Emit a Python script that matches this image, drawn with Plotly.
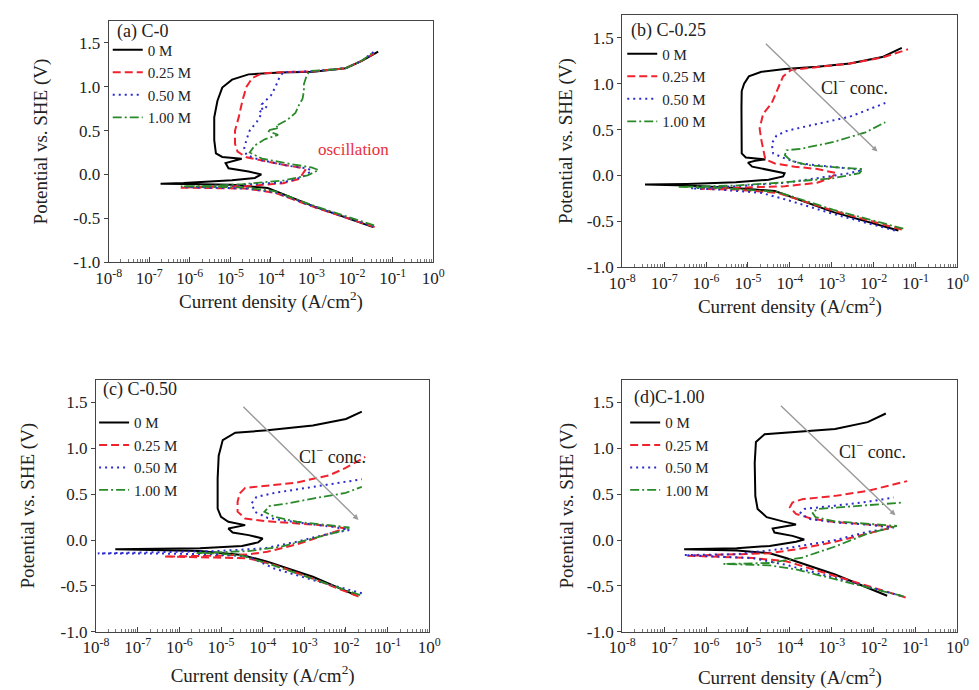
import plotly.graph_objects as go

# ---------------- tick / label data ----------------
X_TICK_VALS = [1e-8, 1e-7, 1e-6, 1e-5, 1e-4, 1e-3, 1e-2, 1e-1, 1e0]
X_TICK_TEXT = ["10<sup>-8</sup>", "10<sup>-7</sup>", "10<sup>-6</sup>", "10<sup>-5</sup>",
               "10<sup>-4</sup>", "10<sup>-3</sup>", "10<sup>-2</sup>", "10<sup>-1</sup>", "10<sup>0</sup>"]
Y_TICK_VALS = [-1.0, -0.5, 0.0, 0.5, 1.0, 1.5]
Y_TICK_TEXT = ["-1.0", "-0.5", "0.0", "0.5", "1.0", "1.5"]
CONC_LABELS = ["0 M", "0.25 M", "0.50 M", "1.00 M"]
PANEL_TITLES = ["(a) C-0", "(b) C-0.25", "(c) C-0.50", "(d)C-1.00"]

# ---------------- panel (a) C-0 ----------------
A_0_I = [3.3e-2, 1.1e-3, 8.3e-5, 1.1e-5, 7e-7, 1.9e-7, 7e-7, 1.1e-5, 4e-5, 5.8e-5, 2.8e-5, 9e-6, 7.6e-6,
         1.3e-5, 1.9e-5, 6.3e-6, 4.4e-6, 4e-6, 4e-6, 4.8e-6, 6.3e-6, 1.1e-5, 2.8e-5, 1.7e-4, 1.1e-3,
         6.9e-3, 1.7e-2, 4.4e-2]
A_0_E = [-0.60, -0.36, -0.154, -0.116, -0.109, -0.105, -0.097, -0.067, -0.04, 0.0, 0.034, 0.07, 0.13,
         0.157, 0.18, 0.20, 0.24, 0.39, 0.65, 0.84, 0.99, 1.08, 1.14, 1.16, 1.17, 1.21, 1.29, 1.40]
A_25_I = [3.6e-2, 1.3e-3, 1.3e-4, 2.5e-5, 3e-6, 5.8e-7, 3e-6, 3e-5, 2e-4, 5e-4, 7e-4, 5e-4, 2e-4, 6e-5,
          2.5e-5, 1.5e-5, 1.3e-5, 1.3e-5, 1.6e-5, 2e-5, 2.5e-5, 3.5e-5, 6e-5, 2e-4, 1.2e-3, 7e-3, 1.8e-2, 3.5e-2]
A_25_E = [-0.60, -0.38, -0.21, -0.16, -0.155, -0.15, -0.14, -0.13, -0.10, -0.05, 0.05, 0.08, 0.11, 0.157,
          0.195, 0.26, 0.35, 0.50, 0.65, 0.85, 1.00, 1.10, 1.15, 1.165, 1.175, 1.21, 1.30, 1.38]
A_50_I = [3.4e-2, 1.2e-3, 1.2e-4, 2.5e-5, 3e-6, 8e-7, 3e-6, 2e-5, 2e-4, 6e-4, 1e-3, 8e-4, 2.5e-4, 5e-5,
          2.5e-5, 2.2e-5, 2.5e-5, 3e-5, 4.5e-5, 6e-5, 5e-5, 8e-5, 6e-5, 1e-4, 1.3e-4, 1.6e-4, 2e-4,
          1.2e-3, 7e-3, 1.8e-2, 3.5e-2]
A_50_E = [-0.59, -0.37, -0.20, -0.16, -0.15, -0.145, -0.14, -0.12, -0.09, -0.03, 0.04, 0.07, 0.10, 0.17,
          0.22, 0.30, 0.40, 0.50, 0.60, 0.70, 0.74, 0.76, 0.80, 0.90, 1.00, 1.10, 1.165, 1.175, 1.21, 1.30, 1.40]
A_100_I = [3.5e-2, 1.2e-3, 1.2e-4, 2.5e-5, 3e-6, 6e-7, 3e-6, 2e-5, 2e-4, 8e-4, 1.5e-3, 1e-3, 3e-4, 6e-5,
           3e-5, 4e-5, 7e-5, 1.5e-4, 8e-5, 1.6e-4, 1.3e-4, 2.5e-4, 4e-4, 5e-4, 6e-4, 6.5e-4, 6.5e-4,
           7.5e-4, 9e-4, 2.5e-3, 7e-3, 1.8e-2, 3.5e-2]
A_100_E = [-0.58, -0.36, -0.19, -0.15, -0.14, -0.135, -0.13, -0.11, -0.07, -0.01, 0.05, 0.08, 0.12, 0.18,
           0.25, 0.33, 0.40, 0.45, 0.50, 0.53, 0.55, 0.62, 0.70, 0.80, 0.86, 0.95, 1.03, 1.12, 1.18,
           1.19, 1.21, 1.30, 1.40]

# ---------------- panel (b) C-0.25 ----------------
B_0_I = [3.9e-2, 1.1e-3, 4.4e-5, 5.1e-6, 3.5e-7, 3.5e-8, 3.5e-7, 5.1e-6, 3.1e-5, 6.9e-5, 7.5e-5, 3.1e-5,
         1.26e-5, 1e-5, 1.5e-5, 2.6e-5, 8.9e-6, 7.1e-6, 7e-6, 7e-6, 7.1e-6, 8.1e-6, 1.05e-5, 2.1e-5,
         7.6e-5, 4.5e-4, 2.7e-3, 1.6e-2, 4.7e-2]
B_0_E = [-0.60, -0.40, -0.17, -0.136, -0.11, -0.10, -0.093, -0.075, -0.046, -0.01, 0.025, 0.06, 0.096,
         0.14, 0.16, 0.175, 0.196, 0.24, 0.38, 0.74, 0.92, 1.00, 1.08, 1.13, 1.16, 1.185, 1.22, 1.29, 1.39]
B_25_I = [4.7e-2, 1.1e-3, 5.2e-5, 5.1e-6, 7.2e-7, 5.1e-6, 7.6e-5, 4.5e-4, 9.1e-4, 1.3e-3, 4.5e-4, 1.3e-4,
          4.4e-5, 2.6e-5, 2.3e-5, 2.1e-5, 1.9e-5, 2.3e-5, 3.7e-5, 5.2e-5, 6.9e-5, 1.07e-4, 4.5e-4,
          2.7e-3, 1.6e-2, 6.6e-2]
B_25_E = [-0.59, -0.385, -0.19, -0.154, -0.146, -0.136, -0.118, -0.08, -0.03, 0.025, 0.07, 0.096, 0.13,
          0.175, 0.275, 0.38, 0.51, 0.67, 0.79, 0.94, 1.08, 1.15, 1.18, 1.22, 1.285, 1.375]
B_50_I = [3.2e-2, 1.1e-3, 7.6e-5, 2.1e-5, 2.1e-6, 4.3e-7, 5.1e-6, 7.6e-5, 4.5e-4, 2.7e-3, 5.5e-3, 1.1e-3,
          1.8e-4, 7.6e-5, 4e-5, 3.7e-5, 4.8e-5, 8.9e-5, 4.5e-4, 2.7e-3, 1.9e-2]
B_50_E = [-0.60, -0.42, -0.26, -0.19, -0.154, -0.14, -0.118, -0.08, -0.03, 0.025, 0.06, 0.096, 0.13, 0.186,
          0.24, 0.346, 0.435, 0.49, 0.56, 0.64, 0.79]
B_100_I = [5.1e-2, 1.1e-3, 5.2e-5, 2.1e-6, 2.1e-7, 5.1e-6, 7.6e-5, 1.1e-3, 4.6e-3, 5.5e-3, 1.1e-3, 2.6e-4,
           1.07e-4, 7.6e-5, 8.3e-5, 1.8e-4, 1.1e-3, 6.4e-3, 1.9e-2]
B_100_E = [-0.58, -0.375, -0.18, -0.136, -0.125, -0.11, -0.075, -0.03, 0.025, 0.07, 0.09, 0.114, 0.16,
           0.22, 0.275, 0.29, 0.365, 0.47, 0.58]

# ---------------- panel (c) C-0.50 ----------------
C_0_I = [1.7e-2, 1.6e-3, 1.3e-4, 3.2e-5, 3.1e-6, 2.9e-8, 3.1e-6, 3.2e-5, 7.8e-5, 1e-4, 4.6e-5, 1.9e-5,
         1.5e-5, 3.8e-5, 1.5e-5, 1e-5, 8.3e-6, 8.3e-6, 8.8e-6, 1.1e-5, 2.2e-5, 1.3e-4, 1.6e-3, 1e-2, 2.4e-2]
C_0_E = [-0.60, -0.40, -0.235, -0.163, -0.12, -0.10, -0.09, -0.065, -0.025, 0.018, 0.054, 0.083, 0.127,
         0.163, 0.20, 0.254, 0.344, 0.67, 0.92, 1.09, 1.17, 1.196, 1.25, 1.32, 1.40]
C_25_I = [2e-2, 1.6e-3, 1.9e-4, 4.6e-5, 7.6e-6, 4.3e-7, 7.6e-6, 4.6e-5, 1.3e-4, 6.6e-4, 4e-3, 9.8e-3,
          4e-3, 6.6e-4, 1.1e-4, 3.8e-5, 2.5e-5, 2.5e-5, 2.8e-5, 3.8e-5, 1.1e-4, 6.6e-4, 4e-3, 9.8e-3, 2.9e-2]
C_25_E = [-0.615, -0.42, -0.27, -0.20, -0.19, -0.18, -0.17, -0.156, -0.127, -0.047, 0.072, 0.127, 0.156,
          0.18, 0.207, 0.235, 0.31, 0.417, 0.507, 0.569, 0.59, 0.627, 0.707, 0.786, 0.906]
C_50_I = [2.4e-2, 1.6e-3, 1.9e-4, 4.6e-5, 7.6e-6, 2.1e-7, 1.1e-8, 2.1e-7, 7.6e-6, 1.1e-4, 6.6e-4, 4e-3,
          1.2e-2, 4.8e-3, 6.6e-4, 1.3e-4, 6.5e-5, 5.4e-5, 7.1e-5, 1.9e-4, 1.6e-3, 9.8e-3, 2.4e-2]
C_50_E = [-0.58, -0.435, -0.31, -0.18, -0.156, -0.145, -0.145, -0.134, -0.12, -0.09, -0.018, 0.072, 0.109,
          0.145, 0.192, 0.243, 0.308, 0.40, 0.47, 0.514, 0.58, 0.634, 0.663]
C_100_I = [2.2e-2, 1.6e-3, 1.3e-4, 3.2e-5, 7.6e-6, 2.6e-6, 7.6e-6, 4.6e-5, 2.8e-4, 1.6e-3, 9.8e-3, 1.2e-2,
           4e-3, 6.6e-4, 1.9e-4, 1.1e-4, 1.45e-4, 3.9e-4, 1.6e-3, 9.8e-3, 2.4e-2]
C_100_E = [-0.60, -0.42, -0.254, -0.17, -0.145, -0.141, -0.134, -0.12, -0.072, 0.018, 0.109, 0.138, 0.163,
           0.20, 0.254, 0.308, 0.37, 0.40, 0.453, 0.514, 0.58]

# ---------------- panel (d) C-1.00 ----------------
D_0_I = [2.1e-2, 1.2e-3, 8.1e-5, 3.3e-5, 5.4e-6, 3e-7, 5.4e-6, 3.3e-5, 1.4e-4, 2.2e-4, 1.15e-4, 4.3e-5,
         3.9e-5, 8.1e-5, 1.4e-4, 6.8e-5, 2.8e-5, 1.7e-5, 1.5e-5, 1.45e-5, 1.55e-5, 2.5e-5, 2e-4, 1.2e-3,
         7.2e-3, 1.95e-2]
D_0_E = [-0.607, -0.375, -0.196, -0.143, -0.114, -0.10, -0.089, -0.064, -0.018, 0.007, 0.046, 0.082, 0.125,
         0.154, 0.171, 0.204, 0.25, 0.34, 0.48, 0.84, 1.07, 1.154, 1.18, 1.21, 1.286, 1.38]
D_25_I = [5.8e-2, 1.2e-3, 8.1e-5, 1.3e-5, 3.6e-7, 5.4e-6, 3.3e-5, 2e-4, 1.2e-3, 7.2e-3, 3e-2, 7.2e-3,
          1.2e-3, 3.4e-4, 1.4e-4, 1e-4, 1.15e-4, 2e-4, 1.2e-3, 7.2e-3, 6.3e-2]
D_25_E = [-0.625, -0.39, -0.23, -0.196, -0.17, -0.154, -0.143, -0.09, -0.018, 0.071, 0.143, 0.171, 0.196,
          0.232, 0.286, 0.357, 0.41, 0.446, 0.482, 0.536, 0.643]
D_50_I = [4.4e-2, 1.2e-3, 8.1e-5, 1.3e-5, 3e-7, 5.4e-6, 8.1e-5, 1.2e-3, 7.2e-3, 3e-2, 7.2e-3, 1.2e-3,
          2.8e-4, 1.8e-4, 2.2e-4, 1.2e-3, 7.2e-3, 3e-2]
D_50_E = [-0.607, -0.41, -0.27, -0.196, -0.164, -0.154, -0.09, 0.0, 0.09, 0.136, 0.168, 0.193, 0.232,
          0.296, 0.34, 0.375, 0.418, 0.464]
D_100_I = [5.2e-2, 1.2e-3, 1.4e-4, 3.3e-5, 2.6e-6, 3.3e-5, 2e-4, 1.2e-3, 7.2e-3, 3.6e-2, 7.2e-3, 1.2e-3,
           4.1e-4, 3.4e-4, 4.8e-4, 2.9e-3, 1.2e-2, 5.2e-2]
D_100_E = [-0.614, -0.43, -0.32, -0.275, -0.26, -0.25, -0.19, -0.07, 0.071, 0.154, 0.179, 0.204, 0.25,
           0.304, 0.34, 0.368, 0.393, 0.41]

PANELS = [
    [(A_0_I, A_0_E), (A_25_I, A_25_E), (A_50_I, A_50_E), (A_100_I, A_100_E)],
    [(B_0_I, B_0_E), (B_25_I, B_25_E), (B_50_I, B_50_E), (B_100_I, B_100_E)],
    [(C_0_I, C_0_E), (C_25_I, C_25_E), (C_50_I, C_50_E), (C_100_I, C_100_E)],
    [(D_0_I, D_0_E), (D_25_I, D_25_E), (D_50_I, D_50_E), (D_100_I, D_100_E)],
]

# ---------------- styling ----------------
FONT = "Liberation Serif"
COLORS = ["#000000", "#f0222e", "#2b2bd0", "#2a8a2a"]
DASHES = ["solid", "8px,4px", "2px,4px", "9px,3px,2px,3px"]
WIDTHS = [2.0, 2.0, 2.0, 1.8]

W, H = 979, 690
# plot boxes in pixels (left, top, right, bottom)
BOXES = [(90, 13, 423, 258), (617, 7, 961, 263), (77, 377, 419, 633), (617, 377, 961, 633)]
LEGEND_POS = [(89, 26), (617, 30), (75, 404), (620, 404)]
TITLE_POS = [(96, 24), (624, 23), (82, 387), (627, 395)]
Y_STANDOFF = [20, 9, 20, 8]
X_STANDOFF = [4, 6, 12, 14]

fig = go.Figure()
minor_vals = [k * 10.0 ** n for n in range(-8, 0) for k in range(2, 10)]

for p, panel in enumerate(PANELS):
    sfx = "" if p == 0 else str(p + 1)
    leg = "legend" if p == 0 else "legend" + str(p + 1)
    for c, (ii, ee) in enumerate(panel):
        fig.add_trace(go.Scatter(
            x=ii, y=ee, mode="lines", name=CONC_LABELS[c],
            line=dict(color=COLORS[c], width=WIDTHS[c], dash=DASHES[c]),
            xaxis="x" + sfx, yaxis="y" + sfx, legend=leg, showlegend=True))
    l, t, r, b = BOXES[p]
    xa = dict(
        type="log", range=[-8, 0], domain=[l / W, r / W], anchor="y" + sfx,
        tickmode="array", tickvals=X_TICK_VALS, ticktext=X_TICK_TEXT,
        ticks="inside", ticklen=5, tickcolor="#444",
        minor=dict(tickmode="array", tickvals=minor_vals, ticks="inside", ticklen=3, tickcolor="#777"),
        showline=True, linecolor="#444", linewidth=1.2, mirror=True, showgrid=False,
        tickfont=dict(family=FONT, size=17, color="#222"),
        title=dict(text="Current density (A/cm<sup>2</sup>)", font=dict(family=FONT, size=19, color="#222"),
                   standoff=X_STANDOFF[p]),
    )
    ya = dict(
        range=[-1.0, 1.75], domain=[1 - b / H, 1 - t / H], anchor="x" + sfx,
        tickmode="array", tickvals=Y_TICK_VALS, ticktext=Y_TICK_TEXT,
        ticks="outside", ticklen=4, tickcolor="#444",
        showline=True, linecolor="#444", linewidth=1.2, mirror=True, showgrid=False, zeroline=False,
        tickfont=dict(family=FONT, size=17, color="#222"),
        title=dict(text="Potential vs. SHE (V)", font=dict(family=FONT, size=19, color="#222"),
                   standoff=Y_STANDOFF[p]),
    )
    fig.layout["xaxis" + sfx] = xa
    fig.layout["yaxis" + sfx] = ya
    lx, ly = LEGEND_POS[p]
    fig.layout[leg] = dict(
        x=lx / W, y=1 - ly / H, xanchor="left", yanchor="top", bgcolor="rgba(0,0,0,0)",
        font=dict(family=FONT, size=15, color="#222"), tracegroupgap=0, itemwidth=30,
        borderwidth=0)
    tx, ty = TITLE_POS[p]
    fig.add_annotation(text=PANEL_TITLES[p], xref="paper", yref="paper", x=tx / W, y=1 - ty / H,
                       xanchor="left", yanchor="middle", showarrow=False,
                       font=dict(family=FONT, size=18, color="#222"))

# Cl- concentration arrows (log10 coordinates for annotations on log axes)
ARROWS = [("x2", "y2", -4.61, 1.45, -1.91, 0.26, -2.46, 0.97),
          ("x3", "y3", -4.50, 1.47, -1.70, 0.22, -2.32, 0.92),
          ("x4", "y4", -4.25, 1.48, -1.48, 0.27, -2.02, 0.975)]
for xr, yr, x0, y0, x1, y1, tx, ty in ARROWS:
    fig.add_annotation(xref=xr, yref=yr, axref=xr, ayref=yr, x=x1, y=y1, ax=x0, ay=y0, text="",
                       showarrow=True, arrowhead=2, arrowsize=0.8, arrowwidth=1.4, arrowcolor="#9a9a9a")
    fig.add_annotation(xref=xr, yref=yr, x=tx, y=ty, text="Cl<sup>−</sup> conc.", showarrow=False,
                       font=dict(family=FONT, size=18, color="#222"))

fig.add_annotation(xref="x", yref="y", x=-1.96, y=0.29, text="oscillation", showarrow=False,
                   font=dict(family=FONT, size=17, color="#e8303a"))

fig.update_layout(width=W, height=H, margin=dict(l=0, r=0, t=0, b=0),
                  paper_bgcolor="white", plot_bgcolor="white")
fig.write_html("out.html")
